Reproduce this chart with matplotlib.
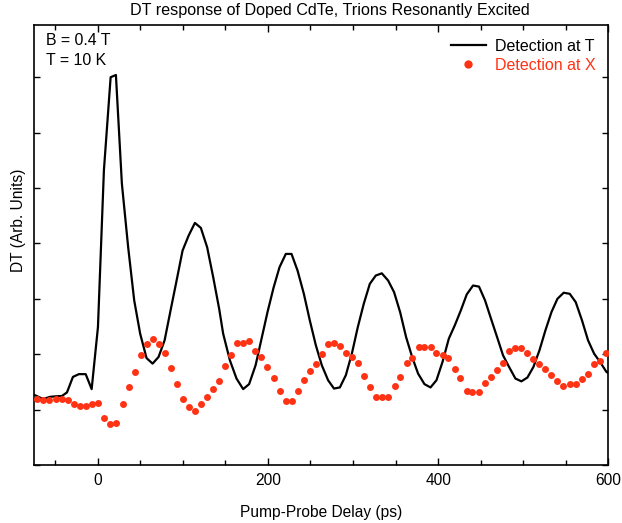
import matplotlib
matplotlib.use("Agg")
import matplotlib.pyplot as plt
from matplotlib.ticker import MultipleLocator, FixedLocator, NullFormatter

plt.rcParams['font.family'] = ['Liberation Sans', 'DejaVu Sans']

# Detection at T (black line)
t_T = [-75, -64, -56, -49, -42, -36, -29, -22, -14, -7, 0.4, 7.4, 15.3, 21.5, 28.5, 35.9, 43.0,
       50.0, 57.5, 64.6, 71.6, 78.7, 85.7, 92.8, 99.8, 106.9, 114.3, 121.3, 128.7, 135.8,
       142.8, 147.5, 155.4, 163.2, 171.0, 178.0, 185.6, 192.6, 199.6, 206.7, 213.7, 221.1,
       227.8, 234.9, 242.3, 249.3, 256.4, 263.4, 270.8, 277.7, 284.6, 291.6, 298.7, 305.7,
       312.7, 319.8, 326.8, 333.9, 341.3, 348.3, 355.4, 362.4, 369.5, 376.5, 384.0, 391.1,
       398.1, 405.2, 412.6, 419.6, 426.7, 433.7, 441.1, 448.1, 455.2, 462.2, 469.3, 476.3,
       483.4, 490.9, 497.9, 505.0, 512.0, 519.1, 526.1, 533.2, 540.2, 547.6, 554.7, 561.7,
       569.1, 576.2, 583.3, 590.3, 597.8, 600]
v_T = [0.27, 0.19, 0.23, 0.24, 0.245, 0.31, 0.59, 0.64, 0.64, 0.37, 1.49, 4.32, 6.00, 6.04,
       4.08, 2.93, 1.97, 1.37, 0.93, 0.83, 0.95, 1.25, 1.79, 2.33, 2.87, 3.14, 3.37, 3.28,
       2.93, 2.39, 1.82, 1.37, 0.89, 0.56, 0.37, 0.46, 0.80, 1.28, 1.76, 2.20, 2.57, 2.81,
       2.81, 2.51, 2.09, 1.61, 1.16, 0.80, 0.53, 0.38, 0.40, 0.62, 1.01, 1.49, 1.91, 2.27,
       2.42, 2.46, 2.33, 2.12, 1.76, 1.31, 0.95, 0.65, 0.46, 0.40, 0.53, 0.86, 1.28, 1.52,
       1.79, 2.08, 2.24, 2.22, 1.97, 1.64, 1.31, 0.98, 0.77, 0.56, 0.51, 0.58, 0.77, 1.07,
       1.43, 1.76, 2.00, 2.11, 2.09, 1.94, 1.61, 1.25, 1.01, 0.86, 0.68, 0.66]

# Detection at X (red dots)
t_X = [-70.9, -63.9, -56.8, -49.3, -41.9, -34.9, -28.2, -21.1, -13.7, -6.7, 0.4, 7.4, 14.8,
       21.8, 29.4, 36.4, 43.5, 50.5, 57.5, 64.6, 71.6, 78.7, 85.7, 92.8, 99.8, 106.9, 113.9,
       121.3, 128.4, 135.4, 142.4, 149.9, 156.9, 163.9, 171.0, 178.0, 185.1, 192.1, 199.2,
       206.7, 213.7, 220.8, 227.8, 234.9, 242.3, 249.3, 256.4, 263.4, 270.8, 277.5, 284.6,
       291.6, 298.7, 306.0, 313.1, 320.1, 327.2, 334.2, 341.3, 348.8, 355.8, 362.9, 369.9,
       377.0, 384.0, 391.1, 398.1, 405.2, 412.2, 419.3, 426.3, 433.4, 440.4, 447.8, 454.9,
       461.9, 469.3, 476.3, 483.4, 490.4, 497.5, 505.0, 512.0, 519.1, 526.1, 533.2, 540.2,
       547.3, 554.7, 561.7, 568.8, 575.8, 582.9, 589.9, 597.0]
v_X = [0.19, 0.18, 0.17, 0.19, 0.19, 0.17, 0.11, 0.065, 0.06, 0.10, 0.12, -0.15, -0.26,
       -0.25, 0.11, 0.41, 0.67, 0.99, 1.19, 1.28, 1.18, 1.02, 0.75, 0.47, 0.19, 0.04, -0.03,
       0.11, 0.23, 0.38, 0.52, 0.78, 0.98, 1.21, 1.21, 1.24, 1.05, 0.95, 0.76, 0.57, 0.33,
       0.155, 0.15, 0.34, 0.53, 0.70, 0.82, 1.00, 1.19, 1.21, 1.15, 1.03, 0.95, 0.85, 0.60,
       0.40, 0.23, 0.23, 0.23, 0.43, 0.59, 0.84, 0.93, 1.13, 1.13, 1.13, 1.03, 0.98, 0.93,
       0.74, 0.57, 0.34, 0.31, 0.31, 0.48, 0.59, 0.71, 0.85, 1.06, 1.12, 1.12, 1.02, 0.92,
       0.82, 0.74, 0.62, 0.52, 0.42, 0.46, 0.46, 0.55, 0.65, 0.82, 0.88, 1.02]

x_labels = [0, 200, 400, 600]
red = '#ff3214'

fig = plt.figure(figsize=(6.22, 5.23), dpi=100)
ax = fig.add_axes([0.0543, 0.1109, 0.9237, 0.8421])

ax.plot(t_T, v_T, color='black', lw=1.6, label='Detection at T', zorder=2)
ax.plot(t_X, v_X, ls='none', marker='o', ms=5, color=red, mec='none',
        label='Detection at X', zorder=3)

ax.set_xlim(-75, 600)
ax.set_ylim(-1.0, 6.95)

ax.xaxis.set_major_locator(FixedLocator(x_labels))
ax.xaxis.set_minor_locator(MultipleLocator(50))
ax.yaxis.set_major_locator(MultipleLocator(1))
ax.yaxis.set_major_formatter(NullFormatter())
ax.tick_params(axis='both', which='both', direction='in', top=True, right=True)
ax.tick_params(axis='x', which='major', length=5, width=1, labelsize=11.2, pad=6)
ax.tick_params(axis='x', which='minor', length=3.5, width=1)
ax.tick_params(axis='y', which='major', length=4, width=1)
for s in ax.spines.values():
    s.set_linewidth(1.2)

ax.set_xlabel('Pump-Probe Delay (ps)', fontsize=11.2, labelpad=12)
ax.set_ylabel('DT (Arb. Units)', fontsize=11.2)
ax.yaxis.set_label_coords(-0.0136, 0.556)
ax.set_title('DT response of Doped CdTe, Trions Resonantly Excited', fontsize=11.6,
             pad=7, x=0.5157)

ax.text(0.022, 0.982, 'B = 0.4 T\nT = 10 K', transform=ax.transAxes, ha='left', va='top',
        fontsize=11.4, linespacing=1.48)

leg = ax.legend(loc='upper right', bbox_to_anchor=(0.9897, 0.982), frameon=False,
                fontsize=11.5, handlelength=2.25, borderaxespad=0, handletextpad=0.56,
                labelspacing=0.26, markerscale=1.2)
leg.get_texts()[1].set_color(red)

fig.savefig('out.png', dpi=100)
